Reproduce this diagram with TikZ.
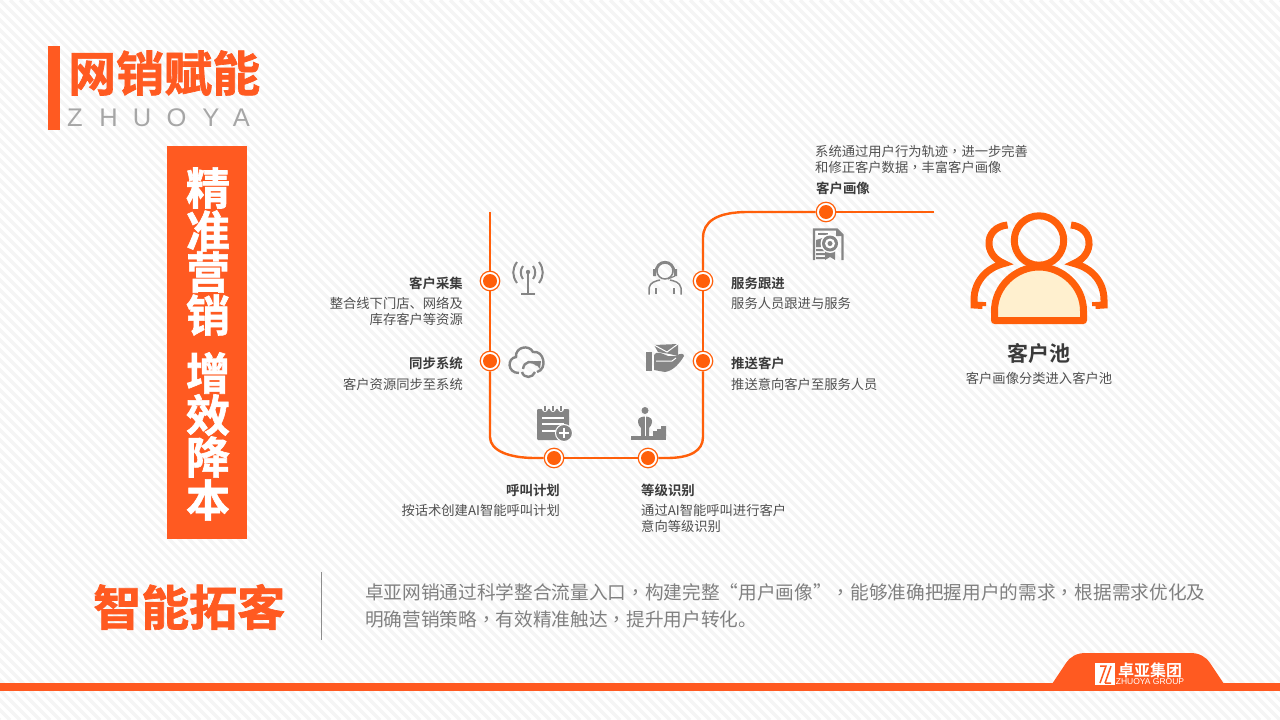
\documentclass[tikz,border=0pt]{standalone}
\usepackage{fontspec}
\setmainfont{Noto Sans CJK SC}
\newfontfamily\heavy[FakeBold=1.4]{Noto Sans CJK SC Bold}
\newfontfamily\zhbold{Noto Sans CJK SC Bold}
\newfontfamily\tcpunct{Noto Sans CJK TC}
\newfontfamily\latinlight{Liberation Sans}
\newcommand{\cm}{{\tcpunct ，}}
\definecolor{brand}{HTML}{FF5A21}
\definecolor{route}{HTML}{FF5F0A}
\definecolor{icongray}{HTML}{858585}
\definecolor{cream}{HTML}{FFF0CF}
\definecolor{darktext}{HTML}{3A3A3A}
\definecolor{midtext}{HTML}{505050}
\tikzset{
  x=1pt,y=-1pt,
  routeline/.style={draw=route,line width=2.4pt},
  ring/.style={circle,draw=route,fill=white,line width=1.2pt,minimum size=19.5pt,inner sep=0pt},
  core/.style={circle,fill=route,minimum size=14pt,inner sep=0pt},
  head/.style={font=\zhbold\fontsize{13.4}{15}\selectfont,text=darktext,inner sep=0pt,yshift=-.8pt},
  body/.style={font=\fontsize{13.3}{16}\selectfont,text=midtext,inner sep=0pt,yshift=-.8pt},
  ic/.style={draw=icongray,line width=2pt,fill=none},
  vert/.style={font=\heavy\fontsize{44}{44}\selectfont,text=white,inner sep=0pt},
  peo/.style={draw=route,line width=7pt,line join=round},
}
\newcommand{\stopdot}[2]{\node[ring] (#1) at (#2) {}; \node[core] (#1c) at (#2) {};}
\begin{document}
\begin{tikzpicture}
\useasboundingbox (0,0) rectangle (1280,720);
% background
\fill[white] (0,0) rectangle (1280,720);
\begin{scope}
\clip (0,0) rectangle (1280,720);
\foreach \s in {-720,-710,...,1280}{
  \draw[black!4,line width=3.5pt] (\s,0) -- (\s+720,720);
}
\end{scope}
% title
\fill[brand] (48,46) rectangle (60,130);
\node[anchor=west,inner sep=0pt,text=brand,font=\heavy\fontsize{48}{48}\selectfont] (title) at (68,73) {网销赋能};
\foreach \l/\x in {Z/75,H/108.5,U/142,O/176.5,Y/211,A/241.5}{
  \node[inner sep=0pt,text=black!35,font=\latinlight\fontsize{25.5}{26}\selectfont] (z\l) at (\x,118) {\l};
}
% vertical box
\fill[brand] (167,146) rectangle (247,539);
\node[vert] (v1) at (208,188) {精};
\node[vert] (v2) at (208,231) {准};
\node[vert] (v3) at (208,272) {营};
\node[vert] (v4) at (208,315) {销};
\node[vert] (v5) at (208,373) {增};
\node[vert] (v6) at (208,415) {效};
\node[vert] (v7) at (208,457) {降};
\node[vert] (v8) at (208,500) {本};
% route
\coordinate (start) at (490,212);
\coordinate (end) at (934,212);
\stopdot{a}{490,281}
\stopdot{b}{490,361}
\stopdot{c}{554,458}
\stopdot{d}{648,458}
\stopdot{e}{703,361}
\stopdot{f}{703,281}
\stopdot{g}{826,212}
\draw[routeline] (start) -- (a.north);
\draw[routeline] (a.south) -- (b.north);
\draw[routeline] (b.south) -- (490,437) .. controls (490,451) and (510,458) .. (535,458) -- (c.west);
\draw[routeline] (c.east) -- (d.west);
\draw[routeline] (d.east) -- (667,458) .. controls (690,458) and (703,451) .. (703,437) -- (e.south);
\draw[routeline] (e.north) -- (f.south);
\draw[routeline] (f.north) -- (703,238) .. controls (703,222) and (716,212) .. (748,212) -- (g.west);
\draw[routeline] (g.east) -- (end);
% labels
\node[head,anchor=east] (t1) at (463,283) {客户采集};
\node[body,anchor=east] (t2) at (463,303) {整合线下门店、网络及};
\node[body,anchor=east] (t3) at (463,319) {库存客户等资源};
\node[head,anchor=east] (t4) at (463,363) {同步系统};
\node[body,anchor=east] (t5) at (463,384) {客户资源同步至系统};
\node[head,anchor=east] (t6) at (560,490) {呼叫计划};
\node[body,anchor=east] (t7) at (560,510) {按话术创建AI智能呼叫计划};
\node[head,anchor=west] (t8) at (641,490) {等级识别};
\node[body,anchor=west] (t9) at (641,510) {通过AI智能呼叫进行客户};
\node[body,anchor=west] (t10) at (641,526) {意向等级识别};
\node[head,anchor=west] (t11) at (731,283) {服务跟进};
\node[body,anchor=west] (t12) at (731,303) {服务人员跟进与服务};
\node[head,anchor=west] (t13) at (731,363) {推送客户};
\node[body,anchor=west] (t14) at (731,384) {推送意向客户至服务人员};
\node[body,anchor=west] (t15) at (815,151) {系统通过用户行为轨迹\cm 进一步完善};
\node[body,anchor=west] (t16) at (815,167) {和修正客户数据\cm 丰富客户画像};
\node[head,anchor=west] (t17) at (816,188) {客户画像};
\node[inner sep=0pt,text=darktext,font=\zhbold\fontsize{21}{23}\selectfont] (t18) at (1039,353) {客户池};
\node[body] (t19) at (1039,378) {客户画像分类进入客户池};
% antenna icon
\draw[ic] (528,272) -- (528,293);
\draw[ic] (521,293.5) -- (535,293.5);
\fill[icongray] (528,272) circle[radius=2.2];
\draw[ic] (523,266) .. controls (520,270) and (520,275) .. (523,279);
\draw[ic] (533,266) .. controls (536,270) and (536,275) .. (533,279);
\draw[ic] (517,262) .. controls (512,269) and (512,276) .. (517,283);
\draw[ic] (539,262) .. controls (544,269) and (544,276) .. (539,283);
% headset person icon
\draw[ic,line width=1.5pt] (665,271) circle[radius=8];
\draw[ic,line width=1.8pt] (655.5,273) .. controls (655,258) and (675,258) .. (674.5,273);
\draw[ic,line width=1.5pt] (649,294.5) -- (649,288) .. controls (650,282) and (656,281) .. (660,280);
\draw[ic,line width=1.5pt] (681,294.5) -- (681,288) .. controls (680,282) and (674,281) .. (670,280);
\draw[ic,line width=1.5pt] (656,288) -- (656,294) (674,288) -- (674,294);
\fill[icongray] (653,269) rectangle (656,276) (674,269) rectangle (677,276);
\draw[ic,line width=1.2pt] (675,276) -- (668,279);
% cloud icon
\draw[ic,line width=2.4pt] (519,373) .. controls (507,373) and (507,358) .. (516,357) .. controls (515,347) and (529,344) .. (533,352) .. controls (544,350) and (548,369) .. (537,372);
\draw[ic,line width=2.4pt] (537,365) .. controls (532,360) and (524,361) .. (523,369);
\draw[ic,line width=2.4pt] (522,372) .. controls (524,379) and (533,378) .. (535,372);
\fill[icongray] (533,361) -- (541,361) -- (540,369) -- cycle;
% hand with mail icon
\fill[icongray] (646,352) rectangle (652,371);
\fill[icongray] (654,355) -- (656,353) .. controls (662,352) and (664,355) .. (668,356) -- (676,356) .. controls (680,353) and (684,353) .. (684,356) .. controls (680,363) and (673,371) .. (665,372) -- (654,370) -- cycle;
\fill[icongray] (654,345) -- (678,344) -- (678,356) -- (670,354) -- (658,352) -- cycle;
\draw[white,line width=1pt] (654,345) -- (667,352) -- (678,344);
\draw[white,line width=1pt] (656,361) -- (672,361) -- (676,358);
% notepad icon
\fill[icongray,rounded corners=1pt] (537,409) rectangle (569,440);
\foreach \x in {545,553,561}{
  \fill[white] (\x,409) circle[radius=3];
  \draw[icongray,line width=1.5pt] (\x,406) -- (\x,411);
}
\draw[white,line width=2pt] (542,418) -- (564,418) (542,424) -- (564,424) (542,431) -- (556,431);
\fill[icongray,draw=white,line width=1pt] (564,433) circle[radius=8.5];
\draw[white,line width=1.5pt] (559,433) -- (569,433) (564,428) -- (564,438);
% person on stairs icon
\fill[icongray] (631,436) rectangle (666,440);
\fill[icongray] (653,436) -- (653,431) -- (657,431) -- (657,429) -- (661,429) -- (661,426) -- (666,426) -- (666,436) -- cycle;
\fill[icongray] (645,410.5) circle[radius=3.5];
\fill[icongray] (638,421) .. controls (638,415) and (652,415) .. (652,421) .. controls (652,425) and (650,427) .. (649,428) -- (649,436) -- (641,436) -- (641,428) .. controls (640,427) and (638,425) .. (638,421) -- cycle;
\draw[white,line width=1pt] (645,416) -- (645,436);
% certificate icon
\draw[icongray,line width=2.2pt] (814,260) -- (814,229.5) -- (837,229.5) -- (842.5,235) -- (842.5,260);
\fill[icongray] (818,233) rectangle (828,235);
\fill[icongray] (836,229) -- (843,236) -- (836,236) -- cycle;
\fill[icongray] (816,240) -- (826,237) -- (826,247) -- (816,247) -- cycle;
\fill[icongray] (816,249) rectangle (826,251) (816,253) rectangle (826,255) (816,257) rectangle (826,259);
\fill[icongray] (825,250) -- (835,250) -- (835,260) -- (830,257) -- (825,260) -- cycle;
\fill[white] (830,243.5) circle[radius=9.5];
\fill[icongray] (830,243.5) circle[radius=8];
\fill[white] (830,243.5) circle[radius=5];
\fill[icongray] (830,243.5) circle[radius=2.5];
% people icon
\draw[peo,fill=cream] (994.5,320.5) -- (994.5,311) .. controls (994.5,286) and (1016,267) .. (1039,267) .. controls (1062,267) and (1083.5,286) .. (1083.5,311) -- (1083.5,320.5) -- cycle;
\draw[peo] (1039,240.5) circle[radius=24.7];
\draw[peo,line join=miter] (1007.5,225) .. controls (996,226) and (988,234) .. (989,245) .. controls (990,254) and (996,260) .. (1004,263.5) .. controls (986,268) and (974,282) .. (974,300) -- (974,305) -- (982.5,305.5) -- (982.5,306);
\draw[peo,line join=miter] (1071,225) .. controls (1082,226) and (1090,234) .. (1089,245) .. controls (1088,254) and (1082,260) .. (1074,263.5) .. controls (1092,268) and (1104,282) .. (1104,300) -- (1104,305) -- (1095.5,305.5) -- (1095.5,306);
% bottom text
\node[anchor=west,inner sep=0pt,text=brand,font=\heavy\fontsize{48}{48}\selectfont] (bt) at (93,607) {智能拓客};
\coordinate (div1) at (321.5,572);
\coordinate (div2) at (321.5,640);
\draw[black!45,line width=1pt] (div1) -- (div2);
\node[anchor=west,inner sep=0pt,text=black!50,font=\fontsize{18.67}{24}\selectfont] (p1) at (365,592) {卓亚网销通过科学整合流量入口\cm 构建完整“用户画像”\cm 能够准确把握用户的需求\cm 根据需求优化及};
\node[anchor=west,inner sep=0pt,text=black!50,font=\fontsize{18.67}{24}\selectfont] (p2) at (365,619) {明确营销策略\cm 有效精准触达\cm 提升用户转化。};
% footer
\fill[brand] (0,683) rectangle (1280,691);
\fill[brand] (1052,684) -- (1066,663) .. controls (1071,656) and (1077,653) .. (1086,653) -- (1190,653) .. controls (1199,653) and (1205,656) .. (1210,663) -- (1224,684) -- cycle;
\fill[white] (1095,663) rectangle (1115,685);
\draw[brand,line width=1.5pt] (1100,683) -- (1106,666) -- (1100,666);
\draw[brand,line width=1.5pt] (1105,683) -- (1111,666) (1105,683) -- (1111,683);
\node[inner sep=0pt,text=white,font=\zhbold\fontsize{16}{17}\selectfont] (logo1) at (1150,670.5) {卓亚集团};
\node[inner sep=0pt,text=white,font=\latinlight\fontsize{8.5}{9}\selectfont] (logo2) at (1150,681.5) {ZHUOYA GROUP};
\end{tikzpicture}
\end{document}
